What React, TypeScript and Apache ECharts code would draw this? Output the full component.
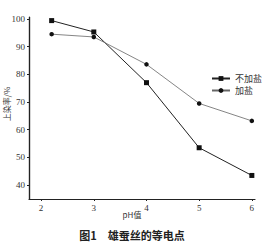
import React, { useEffect, useRef } from "react";
import * as echarts from "echarts";

const seriesNames = ["不加盐", "加盐"];
const phNoSalt = [2.2, 3, 4, 5, 6];
const rateNoSalt = [99.4, 95.3, 77, 53.5, 43.5];
const phSalt = [2.2, 3, 4, 5, 6];
const rateSalt = [94.5, 93.5, 83.6, 69.5, 63.2];
const xTicks = [2, 3, 4, 5, 6];
const yTicks = [40, 50, 60, 70, 80, 90, 100];
const xName = "pH值";
const yName = "上染率/%";
const titleText = "图1　雄蚕丝的等电点";
const xMin = 1.77;
const xMax = 6.06;
const yMin = 35;
const yMax = 100.7;

export default function App() {
  const ref = useRef<HTMLDivElement>(null);
  useEffect(() => {
    const chart = echarts.init(ref.current!, null, { renderer: "svg" });
    const serif = "'Liberation Serif', 'DejaVu Serif', serif";
    const cjk = "'Noto Sans CJK SC', sans-serif";
    chart.setOption({
      animation: false,
      title: {
        text: titleText,
        left: "center",
        top: 229,
        padding: 0,
        textStyle: { fontFamily: cjk, fontSize: 11, fontWeight: "bold", color: "#222" },
      },
      legend: {
        orient: "vertical",
        left: 206,
        top: 69,
        itemWidth: 18,
        itemHeight: 6,
        itemGap: 3,
        textStyle: { fontFamily: cjk, fontSize: 9, color: "#333" },
        data: seriesNames,
      },
      graphic: [
        {
          type: "text",
          x: 132,
          y: 214,
          style: { text: xName, fontFamily: cjk, fontSize: 8, fill: "#333", textAlign: "center", textVerticalAlign: "middle" },
        },
        {
          type: "text",
          x: 6,
          y: 104,
          rotation: Math.PI / 2,
          style: { text: yName, fontFamily: cjk, fontSize: 8, fill: "#333", textAlign: "center", textVerticalAlign: "middle" },
        },
      ],
      grid: { left: 29, right: 9, top: 17, bottom: 46, containLabel: false },
      xAxis: {
        type: "value",
        min: xMin,
        max: xMax,
        axisLine: { show: true, onZero: false, lineStyle: { color: "#222", width: 1.2 } },
        axisTick: { show: true, length: 2, lineStyle: { color: "#222" } },
        axisLabel: {
          showMinLabel: false,
          showMaxLabel: false,
          formatter: (v: number) => (xTicks.includes(v) ? String(v) : ""),
          fontFamily: serif,
          fontSize: 9,
          color: "#333",
          margin: 4,
        },
        splitLine: { show: false },
      },
      yAxis: {
        type: "value",
        min: yMin,
        max: yMax,
        axisLine: { show: true, onZero: false, lineStyle: { color: "#222", width: 1.2 } },
        axisTick: { show: true, length: 2, lineStyle: { color: "#222" } },
        axisLabel: {
          showMinLabel: false,
          showMaxLabel: false,
          formatter: (v: number) => (yTicks.includes(v) ? String(v) : ""),
          fontFamily: serif,
          fontSize: 9,
          color: "#333",
          margin: 4,
        },
        splitLine: { show: false },
      },
      series: [
        {
          name: seriesNames[0],
          type: "line",
          data: phNoSalt.map((x, i) => [x, rateNoSalt[i]]),
          symbol: "rect",
          symbolSize: 5,
          itemStyle: { color: "#111" },
          lineStyle: { color: "#222", width: 1 },
          markLine: {
            silent: true,
            symbol: ["none", "none"],
            label: { show: false },
            lineStyle: { color: "#222", width: 1.2, type: "solid" },
            emphasis: { disabled: true },
            data: [{ xAxis: xMin }, { yAxis: yMin }],
          },
        },
        {
          name: seriesNames[1],
          type: "line",
          data: phSalt.map((x, i) => [x, rateSalt[i]]),
          symbol: "circle",
          symbolSize: 4.5,
          itemStyle: { color: "#111" },
          lineStyle: { color: "#666", width: 0.8 },
        },
      ],
    });
    return () => chart.dispose();
  }, []);
  return <div ref={ref} style={{ width: 264, height: 245, position: "absolute", left: 0, top: 0 }} />;
}
